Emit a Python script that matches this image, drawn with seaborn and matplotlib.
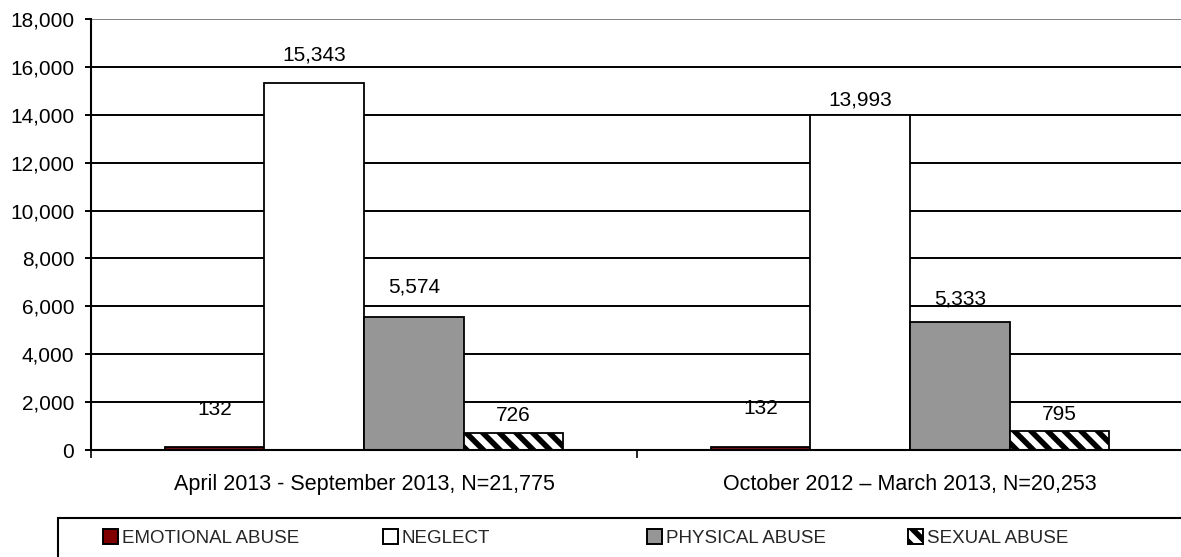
import pandas as pd
import matplotlib
matplotlib.use('Agg')
import matplotlib.pyplot as plt
import seaborn as sns
from matplotlib.patches import Patch, Rectangle
from matplotlib.ticker import StrMethodFormatter

# Dados
periods = ['April 2013 - September 2013, N=21,775',
           'October 2012 \u2013 March 2013, N=20,253']
abuse_types = ['EMOTIONAL ABUSE', 'NEGLECT', 'PHYSICAL ABUSE', 'SEXUAL ABUSE']
emotional = [132, 132]
neglect = [15343, 13993]
physical = [5574, 5333]
sexual = [726, 795]

colors = ['#800000', '#FFFFFF', '#969696', '#FFFFFF']
# deslocamento vertical (px) dos rotulos acima das barras
label_offsets = [[37, 38], [28, 15], [30, 23], [17, 16]]

series = [emotional, neglect, physical, sexual]
rows = []
for t, vals in zip(abuse_types, series):
    for p, v in zip(periods, vals):
        rows.append({'period': p, 'type': t, 'count': v})
df = pd.DataFrame(rows)

sns.set_style('white')
plt.rcParams['font.family'] = ['Liberation Sans', 'DejaVu Sans']
plt.rcParams['hatch.linewidth'] = 4.0
plt.rcParams['hatch.color'] = 'black'

fig = plt.figure(figsize=(11.81, 5.57), dpi=100)
ax = fig.add_axes([91 / 1181, 107 / 557, 1092 / 1181, 431 / 557])

sns.barplot(data=df, x='period', y='count', hue='type', hue_order=abuse_types,
            order=periods, palette=colors, width=0.73, gap=0,
            edgecolor='black', linewidth=1.3, legend=False, ax=ax)

for bar in ax.containers[3]:
    bar.set_hatch('\\\\')

# Rotulos de dados
px = 100 / 72
for i, cont in enumerate(ax.containers):
    for j, bar in enumerate(cont):
        ax.annotate(f'{series[i][j]:,}',
                    xy=(bar.get_x() + bar.get_width() / 2, bar.get_height()),
                    xytext=(0, label_offsets[i][j] / px), textcoords='offset points',
                    ha='center', va='center', fontsize=15, color='black')

ax.set_xlim(-0.5, 1.5)
ax.set_ylim(0, 18000)
ax.set_yticks(range(0, 18001, 2000))
ax.yaxis.set_major_formatter(StrMethodFormatter('{x:,.0f}'))
ax.set_axisbelow(True)
ax.grid(axis='y', color='black', linewidth=1.4)
ax.get_ygridlines()[-1].set_color('#808080')
ax.set_xlabel('')
ax.set_ylabel('')

for s in ['top', 'right']:
    ax.spines[s].set_visible(False)
for s in ['left', 'bottom']:
    ax.spines[s].set_color('black')
    ax.spines[s].set_linewidth(1.5)

ax.tick_params(axis='y', direction='out', length=4, width=1.4, pad=8,
               labelsize=15, colors='black', left=True)
ax.tick_params(axis='x', which='major', length=0, pad=17, labelsize=15.5,
               colors='black')
ax.set_xticks([-0.5, 0.5, 1.5], minor=True)
ax.tick_params(axis='x', which='minor', direction='out', length=6, width=1.4,
               bottom=True)

# Legenda
fig.patches.append(Rectangle((58 / 1181, -0.1), 1.0, 39 / 557 + 0.1,
                             transform=fig.transFigure, facecolor='white',
                             edgecolor='black', linewidth=1.5))
leg_x = [103, 383, 647, 908]
hatches = [None, None, None, '\\\\']
for t, c, h, x in zip(abuse_types, colors, hatches, leg_x):
    handle = Patch(facecolor=c, edgecolor='black', linewidth=1.4, hatch=h)
    fig.legend(handles=[handle], labels=[t], loc='center left',
               bbox_to_anchor=(x / 1181, 19 / 557), frameon=False,
               borderpad=0, borderaxespad=0, handlelength=0.8,
               handleheight=0.8, handletextpad=0.2, fontsize=13.5)

fig.savefig('out.png', dpi=100)
